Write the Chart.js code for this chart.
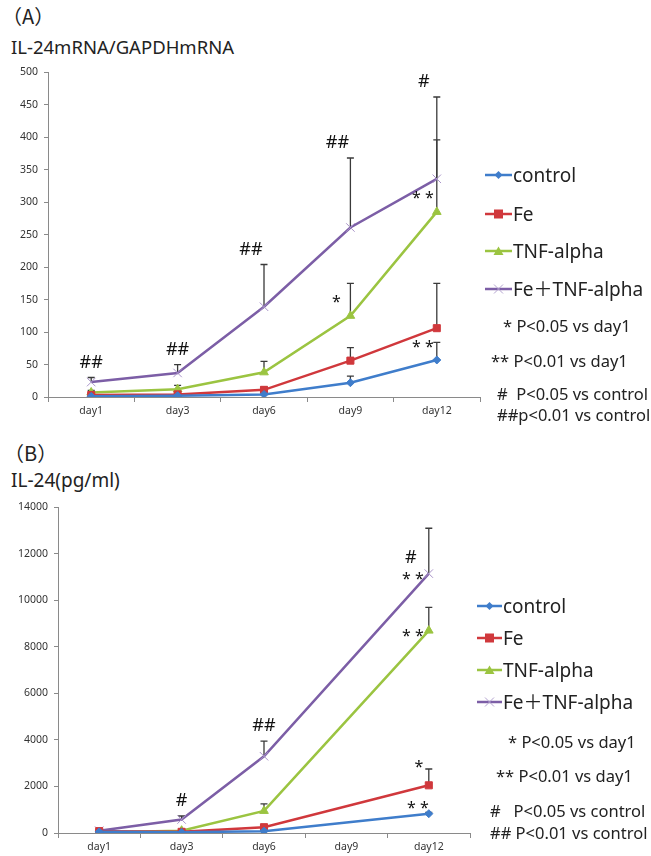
<!DOCTYPE html>
<html>
<head>
<meta charset="utf-8">
<script src="https://cdn.jsdelivr.net/npm/chart.js@4.4.1/dist/chart.umd.min.js"></script>
<style>
  body { margin: 0; background: #fff; width: 651px; height: 856px; position: relative; overflow: hidden;
         font-family: "Noto Sans", "Noto Sans CJK JP", sans-serif; color: #222; }
  .t { position: absolute; white-space: pre; line-height: 1; }
  canvas { position: absolute; }
  .leg { position: absolute; display: flex; align-items: center; white-space: pre; font-size: 19px; line-height: 1; }
  .leg svg { display: block; margin-right: 1px; }
</style>
</head>
<body>
<div class="t" style="left:2px;top:6px;font-size:20px;font-family:'Noto Sans CJK JP';">（A）</div>
<div class="t" style="left:11px;top:38px;font-size:18.5px;">IL-24mRNA/GAPDHmRNA</div>
<canvas id="chartA" width="490" height="365" style="left:0;top:60px;"></canvas>
<div id="legendA"></div>

<div class="t" style="left:4px;top:443px;font-size:20px;font-family:'Noto Sans CJK JP';">（B）</div>
<div class="t" style="left:11px;top:471px;font-size:19px;">IL-24(pg/ml)</div>
<canvas id="chartB" width="480" height="361" style="left:0;top:495px;"></canvas>
<div id="legendB"></div>

<script>
// ---- data ----
var days = ['day1', 'day3', 'day6', 'day9', 'day12'];
var seriesNames = ['control', 'Fe', 'TNF-alpha', 'Fe\uFF0BTNF-alpha'];

// (A) IL-24 mRNA / GAPDH mRNA
var controlA = [1, 2, 4, 22, 57];
var controlAErr = [1, 1, 2, 10, 27];
var feA = [3, 4, 11, 56, 106];
var feAErr = [2, 2, 4, 20, 69];
var tnfA = [7, 12, 38, 125, 285];
var tnfAErr = [3, 6, 17, 50, 111];
var comboA = [23, 37, 139, 261, 336];
var comboAErr = [7, 13, 65, 107, 126];
var yTicksA = { min: 0, max: 500, step: 50 };

// (B) IL-24 pg/ml (no day9 measurement)
var controlB = [50, 30, 80, null, 830];
var controlBErr = [20, 20, 30, null, 60];
var feB = [80, 50, 250, null, 2050];
var feBErr = [30, 20, 60, null, 700];
var tnfB = [30, 100, 950, null, 8700];
var tnfBErr = [20, 30, 300, null, 1000];
var comboB = [100, 580, 3300, null, 11150];
var comboBErr = [40, 150, 650, null, 1950];
var yTicksB = { min: 0, max: 14000, step: 2000 };

// significance marks: [day index, series index, text, placement]
var marksA = [
    [0, 3, '##', 'overBar'], [1, 3, '##', 'overBar'], [2, 3, '##', 'overBarL'],
    [3, 3, '##', 'overBarL'], [4, 3, '#', 'overBarL'],
    [3, 2, '*', 'left'], [4, 2, '**', 'left'], [4, 0, '**', 'left']
];
var marksB = [
    [1, 3, '#', 'overBar'], [2, 3, '##', 'overBar'],
    [4, 3, '#', 'upLeft'], [4, 3, '**', 'lowLeft'], [4, 2, '**', 'lowLeft'],
    [4, 1, '*', 'up'], [4, 0, '**', 'leftLow']
];

var notesA = ['* P<0.05 vs day1', '** P<0.01 vs day1', '#  P<0.05 vs control', '##p<0.01 vs control'];
var notesB = ['* P<0.05 vs day1', '** P<0.01 vs day1', '#   P<0.05 vs control', '## P<0.01 vs control'];

// ---- styles ----
var colors = ['#3f7dcb', '#d0383c', '#9bc441', '#7c5ea6'];
var pointStyles = ['rectRot', 'rect', 'triangle', 'crossRot'];
var pointRadius = [4, 5, 5, 6];
var placeOffsets = {
    overBar: [0, -15], overBarL: [-13, -15], left: [-14, -13],
    upLeft: [-18, -16], lowLeft: [-16, 6], up: [-10, -18], leftLow: [-11, -5]
};

Chart.defaults.font.family = "'Noto Sans', sans-serif";
Chart.defaults.color = '#333';

var errBars = {
    id: 'errBars',
    beforeDatasetsDraw: function (chart) {
        var ctx = chart.ctx;
        var y = chart.scales.y;
        ctx.save();
        ctx.strokeStyle = '#3a3a3a';
        ctx.lineWidth = 1.3;
        chart.data.datasets.forEach(function (ds, i) {
            var meta = chart.getDatasetMeta(i);
            ds.err.forEach(function (e, j) {
                if (e === null || ds.data[j] === null) return;
                var px = meta.data[j].x;
                var y0 = y.getPixelForValue(ds.data[j]);
                var y1 = y.getPixelForValue(ds.data[j] + e);
                ctx.beginPath();
                ctx.moveTo(px, y0); ctx.lineTo(px, y1);
                ctx.moveTo(px - 3.5, y1); ctx.lineTo(px + 3.5, y1);
                ctx.stroke();
            });
        });
        ctx.restore();
    }
};

var sigMarks = {
    id: 'sigMarks',
    afterDatasetsDraw: function (chart, args, opts) {
        var ctx = chart.ctx;
        var y = chart.scales.y;
        ctx.save();
        ctx.fillStyle = '#111';
        ctx.textAlign = 'center';
        ctx.textBaseline = 'middle';
        opts.marks.forEach(function (m) {
            var ds = chart.data.datasets[m[1]];
            var pt = chart.getDatasetMeta(m[1]).data[m[0]];
            var off = placeOffsets[m[3]];
            var base = m[3].indexOf('overBar') === 0
                ? y.getPixelForValue(ds.data[m[0]] + ds.err[m[0]])
                : y.getPixelForValue(ds.data[m[0]]);
            ctx.font = (m[2].indexOf('#') === 0 ? '18px' : '16px') + " 'Noto Sans', sans-serif";
            var txt = m[2] === '**' ? '* *' : m[2];
            ctx.fillText(txt, pt.x + off[0], base + off[1]);
        });
        ctx.restore();
    }
};

function makeDatasets(vals, errs) {
    return vals.map(function (v, i) {
        return {
            label: seriesNames[i],
            data: v,
            err: errs[i],
            borderColor: colors[i],
            backgroundColor: colors[i],
            pointBorderColor: i === 3 ? '#a994c8' : colors[i],
            borderWidth: 2.5,
            pointStyle: pointStyles[i],
            pointRadius: pointRadius[i],
            pointBorderWidth: 1,
            spanGaps: true,
            tension: 0
        };
    });
}

function makeChart(id, vals, errs, ticks, yWidth, xHeight, padTop, marks) {
    return new Chart(document.getElementById(id), {
        type: 'line',
        data: { labels: days, datasets: makeDatasets(vals, errs) },
        options: {
            responsive: false,
            animation: false,
            layout: { autoPadding: false, padding: { top: padTop, right: 10, left: 0, bottom: 0 } },
            plugins: { legend: { display: false }, tooltip: { enabled: false }, sigMarks: { marks: marks } },
            scales: {
                x: {
                    offset: true,
                    grid: { display: true, drawOnChartArea: false, offset: true, tickLength: 5, color: '#8a8a8a' },
                    border: { color: '#8a8a8a' },
                    ticks: { font: { size: 10.5 }, padding: 3, color: '#333' },
                    afterFit: function (s) { s.height = xHeight; }
                },
                y: {
                    min: ticks.min, max: ticks.max,
                    grid: { display: true, drawOnChartArea: false, tickLength: 4, color: '#8a8a8a' },
                    border: { color: '#8a8a8a' },
                    ticks: {
                        stepSize: ticks.step, font: { size: 10.5 }, padding: 6, color: '#333',
                        callback: function (v) { return String(v); }
                    },
                    afterFit: function (s) { s.width = yWidth; }
                }
            }
        },
        plugins: [errBars, sigMarks]
    });
}

makeChart('chartA', [controlA, feA, tnfA, comboA], [controlAErr, feAErr, tnfAErr, comboAErr], yTicksA, 48, 28, 8, marksA);
makeChart('chartB', [controlB, feB, tnfB, comboB], [controlBErr, feBErr, tnfBErr, comboBErr], yTicksB, 58, 23, 12, marksB);

// ---- legends and notes (HTML text) ----
function iconSvg(i, w) {
    var c = colors[i], m = w / 2, mk;
    if (i === 0) mk = '<polygon points="' + m + ',2 ' + (m + 4) + ',6 ' + m + ',10 ' + (m - 4) + ',6" fill="' + c + '"/>';
    else if (i === 1) mk = '<rect x="' + (m - 4.5) + '" y="1.5" width="9" height="9" fill="' + c + '"/>';
    else if (i === 2) mk = '<polygon points="' + m + ',1.5 ' + (m + 5) + ',10 ' + (m - 5) + ',10" fill="' + c + '"/>';
    else mk = '<path d="M' + (m - 4.5) + ' 1.5 L' + (m + 4.5) + ' 10.5 M' + (m + 4.5) + ' 1.5 L' + (m - 4.5) + ' 10.5" stroke="#b3a3cf" stroke-width="1"/>';
    return '<svg width="' + w + '" height="12"><line x1="0" y1="6" x2="' + w + '" y2="6" stroke="' + c + '" stroke-width="2.5"/>' + mk + '</svg>';
}

function buildLegend(elId, left, rows, w, notes, noteRows, noteSize) {
    var el = document.getElementById(elId);
    var html = '';
    seriesNames.forEach(function (n, i) {
        html += '<div class="leg" style="left:' + left + 'px;top:' + (rows[i] - 10) + 'px;height:20px;">' + iconSvg(i, w) + n + '</div>';
    });
    notes.forEach(function (n, i) {
        html += '<div class="t" style="left:' + noteRows[i][0] + 'px;top:' + (noteRows[i][1] - noteSize / 2 - 1) + 'px;font-size:' + noteSize + 'px;">' + n.replace(/</g, '&lt;') + '</div>';
    });
    el.innerHTML = html;
}

buildLegend('legendA', 485, [175, 214, 251, 289], 27, notesA,
    [[503, 327], [491, 362], [497, 395], [497, 416]], 16.5);
buildLegend('legendB', 477, [606, 638, 670, 702], 25, notesB,
    [[508, 743], [496, 777], [490, 812], [490, 834]], 16.5);
</script>
</body>
</html>
